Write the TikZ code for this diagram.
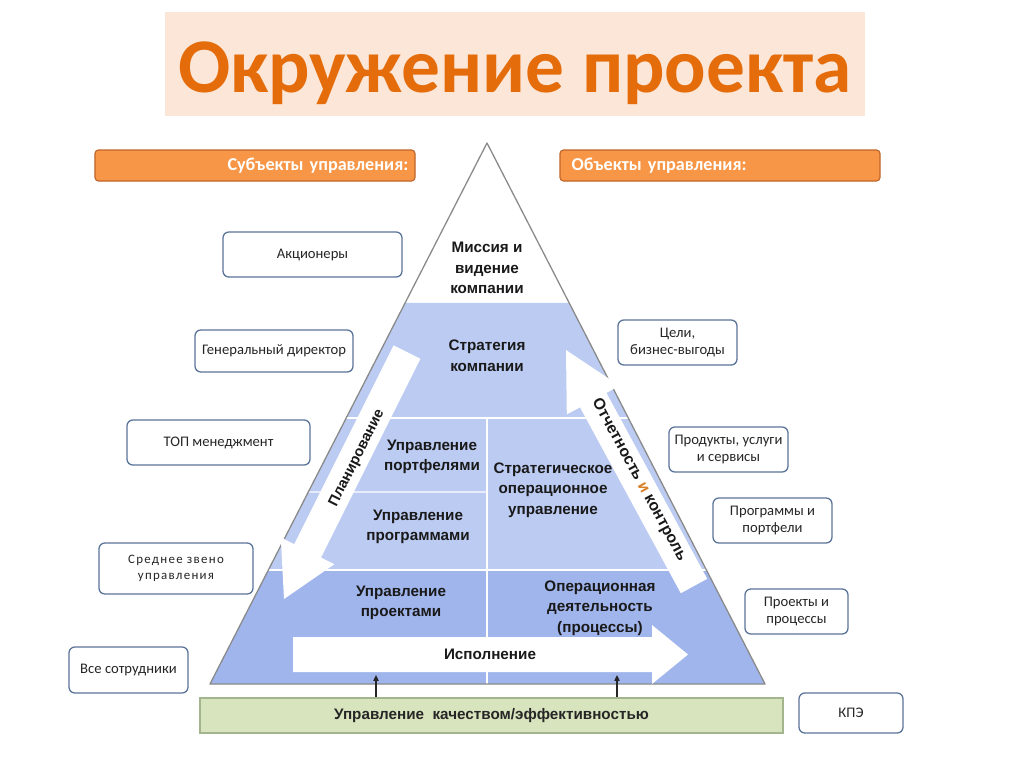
\documentclass[tikz,border=0pt]{standalone}
\usepackage{fontspec}
\setmainfont{Carlito}
\newfontfamily\arialfont{Liberation Sans}
\usetikzlibrary{calc, arrows.meta}

\definecolor{titlefill}{HTML}{FCE6D8}
\definecolor{titletext}{HTML}{E46C0A}
\definecolor{barfill}{HTML}{F79646}
\definecolor{barline}{HTML}{C0652A}
\definecolor{boxline}{HTML}{5A7499}
\definecolor{layerlight}{HTML}{BCCBF2}
\definecolor{layerdark}{HTML}{A0B5EC}
\definecolor{edgegray}{HTML}{8A8A8A}
\definecolor{qualfill}{HTML}{D7E4BD}
\definecolor{qualline}{HTML}{A3B58C}
\definecolor{andorange}{HTML}{D9822B}

\tikzset{
headbar/.style={draw=barline, fill=barfill, line width=1pt, rounded corners=3pt, text=white, font=\bfseries\fontsize{15.5}{17}\selectfont, minimum height=9.3mm, minimum width=96mm},
rolebox/.style={draw=boxline, fill=white, line width=1.1pt, rounded corners=5pt, align=center, text=black!85, font=\fontsize{12.5}{14.5}\selectfont},
level/.style={align=center, text=black!90, font=\arialfont\bfseries\fontsize{13}{17.5}\selectfont},
arrowlabel/.style={text=black!90, font=\arialfont\bfseries\fontsize{12.5}{14}\selectfont},
}

\begin{document}
\begin{tikzpicture}[x=0.3mm, y=-0.3mm]
    \useasboundingbox (0,0) rectangle (1024,767);
    \fill[white] (0,0) rectangle (1024,767);

    %title
    \node[fill=titlefill, minimum width=210mm, minimum height=31.2mm] (titlebg) at (515,64) { };
    \node[text=titletext, anchor=base, font=\bfseries\fontsize{66}{72}\selectfont] (title) at (515,92) {Окружение проекта};

    %headers
    \node[headbar, text width=92mm, inner xsep=2mm, align=right] (subj) at (255,165.5) {Субъекты управления:};
    \node[headbar, text width=89mm, inner xsep=3.5mm, align=left] (obj) at (720,165.5) {Объекты управления:};

    %pyramid corners
    \coordinate (apex) at (487,143);
    \coordinate (bl) at (210,684);
    \coordinate (br) at (765,684);

    %layer borders on the edges
    \coordinate (l1) at ($(apex)!0.2957!(bl)$);
    \coordinate (r1) at ($(apex)!0.2957!(br)$);
    \coordinate (l2) at ($(apex)!0.5083!(bl)$);
    \coordinate (r2) at ($(apex)!0.5083!(br)$);
    \coordinate (lm) at ($(apex)!0.6451!(bl)$);
    \coordinate (l3) at ($(apex)!0.7893!(bl)$);
    \coordinate (r3) at ($(apex)!0.7893!(br)$);
    \coordinate (mid2) at (487,418);
    \coordinate (midm) at (487,492);
    \coordinate (midb) at (487,684);

    %layers
    \fill[white] (apex) -- (l1) -- (r1) -- cycle;
    \fill[layerlight] (l1) -- (r1) -- (r3) -- (l3) -- cycle;
    \fill[layerdark] (l3) -- (r3) -- (br) -- (bl) -- cycle;

    %white lines between layers
    \draw[white, line width=1pt] (l2) -- (r2);
    \draw[white, line width=1pt] (lm) -- (midm);
    \draw[white, line width=1pt] (l3) -- (r3);
    \draw[white, line width=1pt] (mid2) -- (midb);

    %outline
    \draw[edgegray, line width=1.1pt, line join=round] (apex) -- (bl) -- (br) -- cycle;

    %big arrows
    \fill[white] (393.6,345.3) -- (420.4,358.7) -- (321.0,557.5) -- (334.4,564.2)
        -- (284,599) -- (280.8,537.4) -- (294.2,544.1) -- cycle;
    \fill[white] (680.8,593.2) -- (707.2,578.8) -- (606.4,392.9) -- (619.6,385.8)
        -- (566,350) -- (566.8,414.4) -- (580.0,407.3) -- cycle;
    \fill[white] (293,637) -- (652,637) -- (652,625) -- (688,654.5)
        -- (652,684) -- (652,672) -- (293,672) -- cycle;

    %levels
    \node[level] (mission) at (487,268) {Миссия и\\видение\\компании};
    \node[level] (strategy) at (487,356) {Стратегия\\компании};
    \node[level] (portf) at (432,457) {Управление\\портфелями};
    \node[level] (progr) at (418,527) {Управление\\программами};
    \node[level] (stratop) at (553,490) {Стратегическое\\операционное\\управление};
    \node[level] (projects) at (401,603) {Управление\\проектами};
    \node[level] (operat) at (600,608) {Операционная\\деятельность\\(процессы)};

    %arrow labels
    \node[arrowlabel, rotate=63.4] (plan) at (357,458) {Планирование};
    \node[arrowlabel, rotate=-61.5, font=\arialfont\bfseries\fontsize{13.5}{15}\selectfont] (report) at (639,480) {Отчетность {\color{andorange}и} контроль};
    \node[arrowlabel, font=\arialfont\bfseries\fontsize{13}{15}\selectfont] (exec) at (490,654) {Исполнение};

    %quality bar
    \node[draw=qualline, fill=qualfill, line width=1pt, minimum width=174.9mm, minimum height=10.5mm,
          text=black!85, font=\arialfont\bfseries\fontsize{13}{15}\selectfont] (quality) at (491.5,715.5)
          {Управление\ \ качеством/эффективностью};
    \coordinate (ex1) at (376,675);
    \coordinate (ex2) at (617,675);
    \draw[-{Triangle[length=5pt,width=4.5pt]}, line width=0.9pt, black!85] (quality.north -| ex1) -- (ex1);
    \draw[-{Triangle[length=5pt,width=4.5pt]}, line width=0.9pt, black!85] (quality.north -| ex2) -- (ex2);

    %subjects
    \node[rolebox, minimum width=53.7mm, minimum height=13.5mm] (holders) at (312.5,254.5) {Акционеры};
    \node[rolebox, minimum width=47.4mm, minimum height=12.6mm] (ceo) at (274,351) {Генеральный директор};
    \node[rolebox, minimum width=54.9mm, minimum height=13.5mm] (topm) at (218.5,442.5) {ТОП менеджмент};
    \node[rolebox, minimum width=46.2mm, minimum height=15.3mm,
          font=\fontsize{11}{13.5}\selectfont\addfontfeature{LetterSpace=10}] (middle) at (176,568.5) {Среднее звено\\управления};
    \node[rolebox, minimum width=35.7mm, minimum height=13.8mm] (staff) at (128.5,670) {Все сотрудники};

    %objects
    \node[rolebox, minimum width=35.7mm, minimum height=13.5mm] (goals) at (677.5,342.5) {Цели,\\бизнес-выгоды};
    \node[rolebox, minimum width=35.7mm, minimum height=13.5mm] (products) at (728.5,449.5) {Продукты, услуги\\и сервисы};
    \node[rolebox, minimum width=35.7mm, minimum height=13.5mm] (programs) at (772.5,520.5) {Программы и\\портфели};
    \node[rolebox, minimum width=30.9mm, minimum height=13.5mm] (projproc) at (796.5,611.5) {Проекты и\\процессы};
    \node[rolebox, minimum width=31.2mm, minimum height=12mm] (kpi) at (851,713) {КПЭ};
\end{tikzpicture}
\end{document}
